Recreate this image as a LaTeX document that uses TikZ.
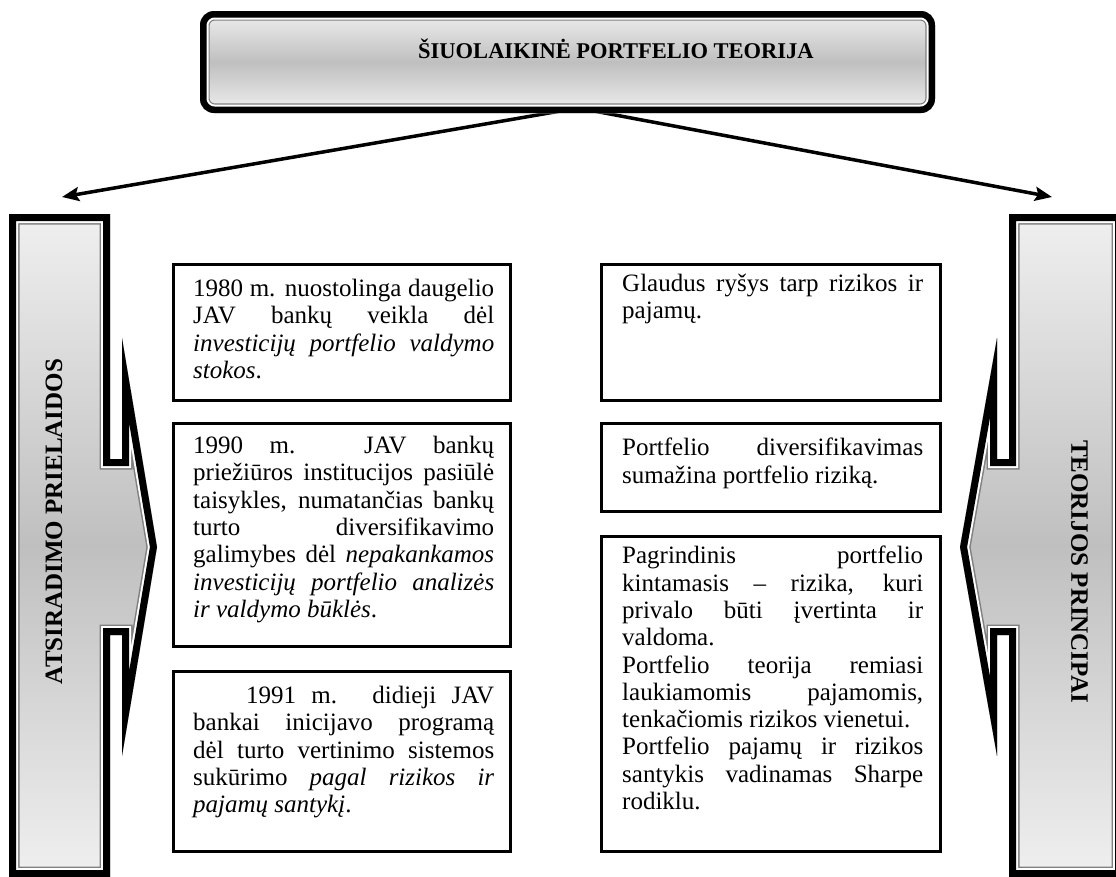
\documentclass[tikz,border=0pt]{standalone}
\usepackage{fontspec}
\setmainfont{Liberation Serif}
\usetikzlibrary{arrows.meta}
\setlength{\parindent}{0pt}
\definecolor{rimgray}{gray}{0.5}
\definecolor{shadelight}{gray}{0.94}
\definecolor{shadedark}{gray}{0.75}

% outlines of the two side panels (pixel grid, y downwards)
\def\leftshape{(9,214) -- (110,214) -- (110,459) -- (122,459) -- (122,338) -- (157,547) -- (122,756) -- (122,635) -- (110,635) -- (110,877) -- (9,877) -- cycle}
\def\rightshape{(1122,214) -- (1009,214) -- (1009,459) -- (997,459) -- (997,338) -- (960,547) -- (997,756) -- (997,635) -- (1009,635) -- (1009,877) -- (1122,877) -- cycle}

\begin{document}
\begin{tikzpicture}[x=1pt,y=-1pt,
  body/.style={font=\fontsize{25}{27.3}\selectfont, text width=301pt, align=justify,
               inner sep=0pt, anchor=north west},
  panel/.style={draw=black, line width=3.4pt, fill=white, inner sep=0pt, outer sep=0pt},
  sidelabel/.style={font=\bfseries\fontsize{25}{30}\selectfont, inner sep=0pt},
  headlabel/.style={font=\bfseries\fontsize{22.5}{27}\selectfont, inner sep=0pt},
  link/.style={line width=3.5pt, -{Stealth[length=17pt,width=14pt,inset=3pt]}},
  frameblack/.style={draw=black, line width=#1},
  framewhite/.style={draw=white, line width=#1},
  framegray/.style={draw=rimgray, line width=#1},
]
\useasboundingbox (0,0) rectangle (1116,876);

% connectors from the heading to the two side panels
\coordinate (apex) at (578,108);
\coordinate (tipL) at (62,197);
\coordinate (tipR) at (1052,197);
\draw[link] (apex) -- (tipL);
\draw[link] (apex) -- (tipR);

% heading frame: rounded bar, thick black rim with thin grey inner rim
\begin{scope}
  \clip[rounded corners=14pt] (200,11) rectangle (935,113);
  \shade[top color=shadelight, bottom color=shadelight, middle color=shadedark] (190,11) rectangle (945,113);
  \draw[framegray=19.4pt, rounded corners=14pt] (200,11) rectangle (935,113);
  \draw[framewhite=17pt, rounded corners=14pt] (200,11) rectangle (935,113);
  \draw[frameblack=13pt, rounded corners=14pt] (200,11) rectangle (935,113);
\end{scope}
\node[headlabel, anchor=base] (title) at (616,58) {ŠIUOLAIKINĖ PORTFELIO TEORIJA};

% left side panel
\begin{scope}
  \clip \leftshape;
  \shade[top color=shadelight, bottom color=shadelight, middle color=shadedark] (0,214) rectangle (170,877);
  \draw[framegray=21pt, line join=miter] \leftshape;
  \draw[framewhite=18pt, line join=miter] \leftshape;
  \draw[frameblack=14pt, line join=miter] \leftshape;
\end{scope}
\node[sidelabel, rotate=90] (leftlabel) at (54,521.5) {ATSIRADIMO PRIELAIDOS};

% right side panel
\begin{scope}
  \clip \rightshape;
  \shade[top color=shadelight, bottom color=shadelight, middle color=shadedark] (950,214) rectangle (1130,877);
  \draw[framegray=21pt, line join=miter] \rightshape;
  \draw[framewhite=18pt, line join=miter] \rightshape;
  \draw[frameblack=14pt, line join=miter] \rightshape;
\end{scope}
\node[sidelabel, rotate=-90] (rightlabel) at (1079.5,571.5) {TEORIJOS PRINCIPAI};

% text panels, left column
\node[panel, minimum width=336.6pt, minimum height=135.6pt] (pL1) at (342,332.5) {};
\node[panel, minimum width=336.6pt, minimum height=222.6pt] (pL2) at (342,535) {};
\node[panel, minimum width=336.6pt, minimum height=179.6pt] (pL3) at (342,761.5) {};
% text panels, right column
\node[panel, minimum width=338.6pt, minimum height=135.6pt] (pR1) at (771,332.5) {};
\node[panel, minimum width=338.6pt, minimum height=87.6pt] (pR2) at (771,467.5) {};
\node[panel, minimum width=338.6pt, minimum height=314.6pt] (pR3) at (771,694) {};

\node[body] (tL1) at (193,279) {1980 m. nuostolinga daugelio\linebreak
JAV bankų veikla dėl\linebreak
\textit{investicijų portfelio valdymo\linebreak
stokos}.};

\node[body] (tL2) at (193,436) {1990 m. JAV bankų\linebreak
priežiūros institucijos pasiūlė\linebreak
taisykles, numatančias bankų\linebreak
turto diversifikavimo\linebreak
galimybes dėl \textit{nepakankamos\linebreak
investicijų portfelio analizės\linebreak
ir valdymo būklės}.};

\node[body] (tL3) at (193,686) {\hspace*{53pt}1991 m. didieji JAV\linebreak
bankai inicijavo programą\linebreak
dėl turto vertinimo sistemos\linebreak
sukūrimo \textit{pagal rizikos ir\linebreak
pajamų santykį}.};

\node[body] (tR1) at (622,274) {Glaudus ryšys tarp rizikos ir\linebreak
pajamų.};

\node[body] (tR2) at (622,438) {Portfelio diversifikavimas\linebreak
sumažina portfelio riziką.};

\node[body] (tR3) at (622,546) {Pagrindinis portfelio\linebreak
kintamasis – rizika, kuri\linebreak
privalo būti įvertinta ir\linebreak
valdoma.\par
Portfelio teorija remiasi\linebreak
laukiamomis pajamomis,\linebreak
tenkačiomis rizikos vienetui.\par
Portfelio pajamų ir rizikos\linebreak
santykis vadinamas Sharpe\linebreak
rodiklu.};
\end{tikzpicture}
\end{document}
